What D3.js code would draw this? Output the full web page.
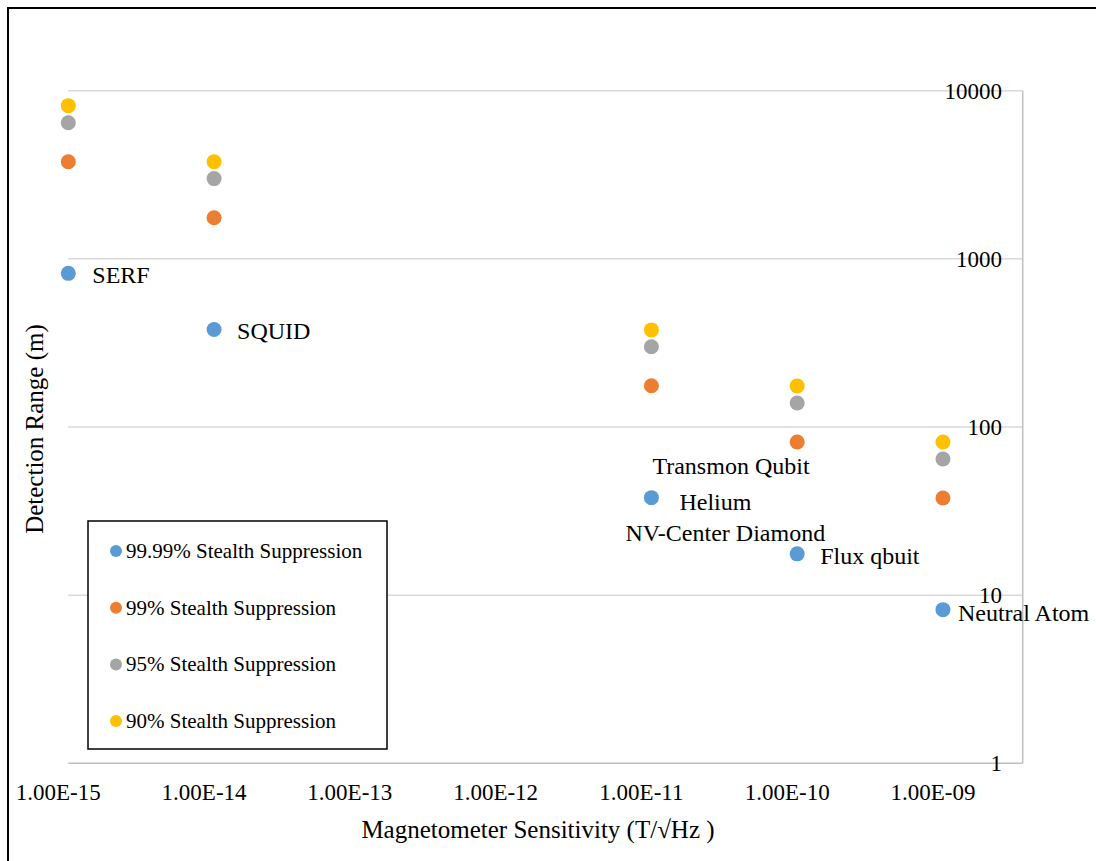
<!DOCTYPE html>
<html>
<head>
<meta charset="utf-8">
<script src="https://cdn.jsdelivr.net/npm/d3@7"></script>
<style>
  body { margin: 0; background: #fff; }
  text { font-family: "Liberation Serif", "Times New Roman", serif; fill: #000; }
</style>
</head>
<body>
<script>
// sensitivity (T/sqrt(Hz)) of each magnetometer
var sensitivity = [1e-15, 1e-14, 1e-11, 1e-10, 1e-9];

// detection range (m) per stealth suppression level
var supp9999 = [820, 380, 38, 17.6, 8.2];
var supp99 = [3780, 1755, 176, 81.5, 37.8];
var supp95 = [6450, 3000, 300, 139, 64.5];
var supp90 = [8150, 3780, 378, 175.5, 81.5];

var seriesNames = ["99.99% Stealth Suppression", "99% Stealth Suppression",
                   "95% Stealth Suppression", "90% Stealth Suppression"];
var colors = ["#5b9bd5", "#ed7d31", "#a5a5a5", "#ffc000"];

var xTicks = [1e-15, 1e-14, 1e-13, 1e-12, 1e-11, 1e-10, 1e-9];
var xTickLabels = ["1.00E-15", "1.00E-14", "1.00E-13", "1.00E-12", "1.00E-11", "1.00E-10", "1.00E-09"];
var yTicks = [1, 10, 100, 1000, 10000];

// labels on the 99.99% series
var pointLabels = ["SERF", "SQUID", "Helium", "Flux qbuit", "Neutral Atom"];
var extraLabels = ["Transmon Qubit", "NV-Center Diamond"]; // share the Helium point

var W = 1096, H = 861;

var svg = d3.select("body")
            .append("svg")
            .attr("width", W)
            .attr("height", H);

svg.append("rect")
   .attr("x", 8).attr("y", 8)
   .attr("width", W + 10).attr("height", H + 10)
   .attr("fill", "white")
   .attr("stroke", "black")
   .attr("stroke-width", 2);

var x = d3.scaleLog()
          .domain([1e-15, Math.pow(10, -8.453)])
          .range([68.3, 1022.7]);

var y = d3.scaleLog()
          .domain([1, 10000])
          .range([763.3, 90.7]);

// gridlines
svg.append("g")
   .selectAll("line")
   .data(yTicks.slice(1))
   .enter()
   .append("line")
   .attr("x1", x.range()[0])
   .attr("x2", x.range()[1])
   .attr("y1", function(d){ return y(d); })
   .attr("y2", function(d){ return y(d); })
   .attr("stroke", "#d9d9d9")
   .attr("stroke-width", 1.5);

// axis lines
svg.append("line")
   .attr("x1", x.range()[0]).attr("x2", x.range()[1])
   .attr("y1", y(1)).attr("y2", y(1))
   .attr("stroke", "#bfbfbf").attr("stroke-width", 1.5);

svg.append("line")
   .attr("x1", x.range()[1]).attr("x2", x.range()[1])
   .attr("y1", y(10000)).attr("y2", y(1))
   .attr("stroke", "#bfbfbf").attr("stroke-width", 1.5);

// y tick labels (right side, sitting on the gridlines)
svg.append("g")
   .selectAll("text")
   .data(yTicks)
   .enter()
   .append("text")
   .attr("x", 1002)
   .attr("y", function(d){ return y(d) + 8; })
   .attr("text-anchor", "end")
   .style("font-size", "23px")
   .text(function(d){ return d; });

// x tick labels
svg.append("g")
   .selectAll("text")
   .data(xTicks)
   .enter()
   .append("text")
   .attr("x", function(d){ return x(d) - 10; })
   .attr("y", 800)
   .attr("text-anchor", "middle")
   .style("font-size", "23px")
   .text(function(d,i){ return xTickLabels[i]; });

// axis titles
svg.append("text")
   .attr("x", 538)
   .attr("y", 838)
   .attr("text-anchor", "middle")
   .style("font-size", "25px")
   .text("Magnetometer Sensitivity (T/\u221AHz )");

svg.append("text")
   .attr("transform", "translate(43,429) rotate(-90)")
   .attr("text-anchor", "middle")
   .style("font-size", "25px")
   .text("Detection Range (m)");

// points
var allSeries = [supp9999, supp99, supp95, supp90];

allSeries.forEach(function(values, s){
  svg.append("g")
     .selectAll("circle")
     .data(values)
     .enter()
     .append("circle")
     .attr("cx", function(d,i){ return x(sensitivity[i]); })
     .attr("cy", function(d){ return y(d); })
     .attr("r", 7.5)
     .attr("fill", colors[s]);
});

// point labels (offsets as placed in the original)
var labelOffsets = [[24, 2], [23, 1], [28, 4], [23, 2], [15, 3]];

svg.append("g")
   .selectAll("text")
   .data(pointLabels)
   .enter()
   .append("text")
   .attr("x", function(d,i){ return x(sensitivity[i]) + labelOffsets[i][0]; })
   .attr("y", function(d,i){ return y(supp9999[i]) + labelOffsets[i][1] + 8; })
   .style("font-size", "24px")
   .text(function(d){ return d; });

var extraOffsets = [[1, -32], [-26, 35]];

svg.append("g")
   .selectAll("text")
   .data(extraLabels)
   .enter()
   .append("text")
   .attr("x", function(d,i){ return x(sensitivity[2]) + extraOffsets[i][0]; })
   .attr("y", function(d,i){ return y(supp9999[2]) + extraOffsets[i][1] + 8; })
   .style("font-size", "24px")
   .text(function(d){ return d; });

// legend
var legend = svg.append("g")
                .attr("transform", "translate(88,521)");

legend.append("rect")
      .attr("width", 299)
      .attr("height", 228)
      .attr("fill", "white")
      .attr("stroke", "black")
      .attr("stroke-width", 1.5);

var rowH = 56.7;

legend.selectAll("circle")
      .data(colors)
      .enter()
      .append("circle")
      .attr("cx", 28)
      .attr("cy", function(d,i){ return 30 + rowH*i; })
      .attr("r", 6)
      .attr("fill", function(d){ return d; });

legend.selectAll("text")
      .data(seriesNames)
      .enter()
      .append("text")
      .attr("x", 38)
      .attr("y", function(d,i){ return 30 + rowH*i + 7; })
      .style("font-size", "21px")
      .text(function(d){ return d; });
</script>
</body>
</html>
